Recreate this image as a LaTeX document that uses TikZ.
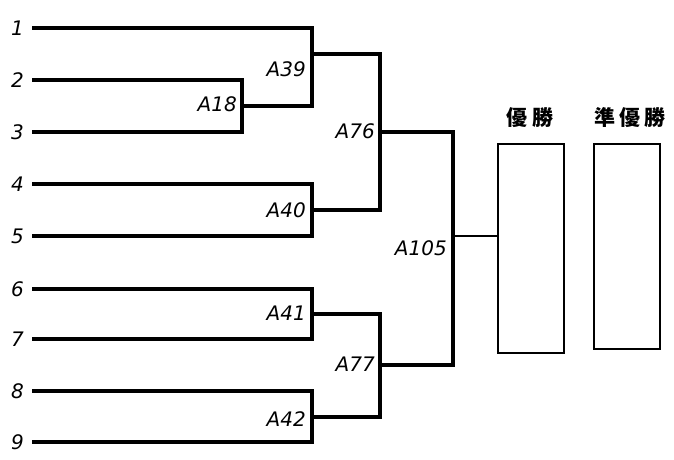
\documentclass[tikz,border=0pt]{standalone}
\usepackage{fontspec}
\newfontfamily\lblfont{DejaVu Sans}
\newfontfamily\cjk[LetterSpace=20]{Noto Sans CJK JP}
\begin{document}
\begin{tikzpicture}[x=1pt,y=-1pt,
  lbl/.style={font=\lblfont\itshape\fontsize{20}{20}\selectfont, anchor=east, inner sep=0pt},
  bracket/.style={draw, line width=3.5pt, line join=miter},
  resbox/.style={draw, line width=1.5pt, minimum width=66pt, inner sep=0pt, anchor=north west},
  title/.style={font=\cjk\bfseries\fontsize{21}{21}\selectfont, inner sep=0pt}]
\useasboundingbox (0,0) rectangle (674,459);
% seed labels and line starts
\foreach \i/\y in {1/28,2/80,3/132,4/184,5/236,6/289,7/339,8/391,9/442}{
  \node[lbl] (s\i) at (24,\y) {\i};
  \coordinate (p\i) at (32,\y);
}
% match points
\coordinate (m18) at (242,106);
\coordinate (m39) at (312,54);
\coordinate (m40) at (312,210);
\coordinate (m41) at (312,314);
\coordinate (m42) at (312,417);
\coordinate (m76) at (380,132);
\coordinate (m77) at (380,365);
\coordinate (m105) at (453,236);
% winner boxes
\node[resbox, minimum height=209pt] (win) at (497,143) {};
\node[resbox, minimum height=205pt] (run) at (593,143) {};
\node[title] (twin) at (530,118) {優勝};
\node[title] (trun) at (630,118) {準優勝};
% brackets
\path[bracket] (p2) -| (m18) |- (p3);
\path[bracket] (p1) -| (m39) |- (m18);
\path[bracket] (p4) -| (m40) |- (p5);
\path[bracket] (p6) -| (m41) |- (p7);
\path[bracket] (p8) -| (m42) |- (p9);
\path[bracket] (m39) -| (m76) |- (m40);
\path[bracket] (m41) -| (m77) |- (m42);
\path[bracket] (m76) -| (m105) |- (m77);
\draw[line width=2.5pt] (m105) -- (win.west |- m105);
% match labels
\node[lbl] (l18) at (237,104) {A18};
\node[lbl] (l39) at (306,69) {A39};
\node[lbl] (l40) at (306,210) {A40};
\node[lbl] (l41) at (306,313) {A41};
\node[lbl] (l42) at (306,419) {A42};
\node[lbl] (l76) at (375,131) {A76};
\node[lbl] (l77) at (375,364) {A77};
\node[lbl] (l105) at (447,248) {A105};
\end{tikzpicture}
\end{document}
